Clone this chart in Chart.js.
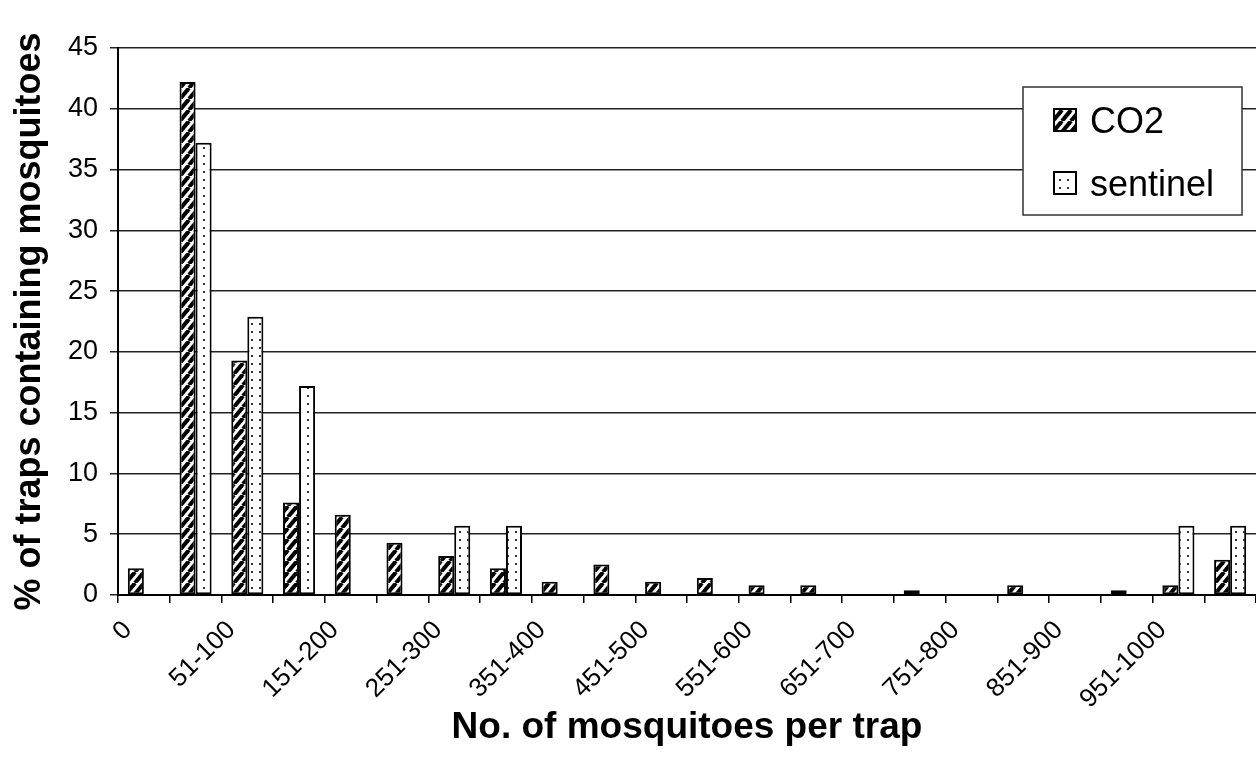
<!DOCTYPE html>
<html>
<head>
<meta charset="utf-8">
<title>Mosquitoes per trap</title>
<script src="https://cdn.jsdelivr.net/npm/chart.js@4.4.1/dist/chart.umd.min.js"></script>
<style>
    body { margin: 0; background: #fff; }
    #wrap { width: 1256px; height: 776px; position: relative; }
</style>
</head>
<body>
<div id="wrap"><canvas id="trapChart"></canvas></div>
<script>
// data
const categories = ['0', '1-50', '51-100', '101-150', '151-200', '201-250', '251-300', '301-350',
    '351-400', '401-450', '451-500', '501-550', '551-600', '601-650', '651-700', '701-750',
    '751-800', '801-850', '851-900', '901-950', '951-1000', '>1000'];
const co2Values = [2.2, 42.2, 19.3, 7.6, 6.6, 4.3, 3.2, 2.2, 1.1, 2.5, 1.1, 1.4, 0.8, 0.8, 0,
    0.4, 0, 0.8, 0, 0.4, 0.8, 2.9];
const sentinelValues = [0, 37.2, 22.9, 17.2, 0, 0, 5.7, 5.7, 0, 0, 0, 0, 0, 0, 0,
    0, 0, 0, 0, 0, 5.7, 5.7];
const yTicks = [0, 5, 10, 15, 20, 25, 30, 35, 40, 45];

const FONT = 'Arial, "Liberation Sans", sans-serif';

function hatchPattern() {
    const w = 9, h = 11;
    const c = document.createElement('canvas');
    c.width = w; c.height = h;
    const g = c.getContext('2d');
    g.fillStyle = '#fff';
    g.fillRect(0, 0, w, h);
    g.strokeStyle = '#000';
    g.lineWidth = 4;
    [-w, 0, w].forEach(dx => {
        g.beginPath();
        g.moveTo(dx, h);
        g.lineTo(dx + w, 0);
        g.stroke();
    });
    return g.createPattern(c, 'repeat');
}

function dotPattern() {
    const c = document.createElement('canvas');
    c.width = 8; c.height = 8;
    const g = c.getContext('2d');
    g.fillStyle = '#fff';
    g.fillRect(0, 0, 8, 8);
    g.fillStyle = '#333';
    g.fillRect(3, 3, 2, 2);
    return g.createPattern(c, 'repeat');
}

// legend drawn as a boxed panel inside the plot, like the original
const boxLegend = {
    id: 'boxLegend',
    afterDraw(chart) {
        const { ctx, chartArea } = chart;
        const x = chartArea.right - 233, y = chartArea.top + 39;
        ctx.save();
        ctx.fillStyle = '#fff';
        ctx.fillRect(x, y, 219, 128);
        ctx.strokeStyle = '#333';
        ctx.lineWidth = 1.5;
        ctx.strokeRect(x, y, 219, 128);
        ctx.font = '36px ' + FONT;
        ctx.textBaseline = 'alphabetic';
        chart.data.datasets.forEach((ds, i) => {
            const sy = y + 21 + i * 63;
            ctx.fillStyle = ds.backgroundColor;
            ctx.fillRect(x + 30, sy, 24, 24);
            ctx.strokeStyle = '#000';
            ctx.lineWidth = 2;
            ctx.strokeRect(x + 31, sy + 1, 22, 22);
            ctx.fillStyle = '#000';
            ctx.fillText(ds.label, x + 67, sy + 25);
        });
        ctx.restore();
    }
};

document.addEventListener('DOMContentLoaded', () => {
    const ctx = document.getElementById('trapChart').getContext('2d');
    new Chart(ctx, {
        type: 'bar',
        data: {
            labels: categories,
            datasets: [
                {
                    label: 'CO2',
                    data: co2Values,
                    backgroundColor: hatchPattern(),
                    borderColor: '#000',
                    borderWidth: 2,
                    borderSkipped: false,
                    categoryPercentage: 0.62,
                    barPercentage: 1.0
                },
                {
                    label: 'sentinel',
                    data: sentinelValues,
                    backgroundColor: dotPattern(),
                    borderColor: '#000',
                    borderWidth: 2,
                    borderSkipped: false,
                    categoryPercentage: 0.62,
                    barPercentage: 1.0
                }
            ]
        },
        options: {
            responsive: true,
            maintainAspectRatio: false,
            animation: false,
            layout: { padding: { top: 48, right: 0, bottom: 26, left: 8 } },
            plugins: {
                legend: { display: false },
                tooltip: { enabled: false }
            },
            scales: {
                x: {
                    afterFit: (scale) => {
                        scale.height = 155;
                        scale.paddingRight = 0;
                    },
                    grid: {
                        offset: true,
                        drawOnChartArea: false,
                        drawTicks: true,
                        tickLength: 8,
                        color: '#000',
                        lineWidth: 1.5
                    },
                    border: { color: '#000', width: 2 },
                    ticks: {
                        autoSkip: false,
                        maxRotation: 45,
                        minRotation: 45,
                        padding: 12,
                        labelOffset: -16,
                        color: '#000',
                        font: { family: FONT, size: 26 },
                        callback: (val, i) => (i % 2 === 0 ? categories[i] : '')
                    },
                    title: {
                        display: true,
                        text: 'No. of mosquitoes per trap',
                        color: '#000',
                        padding: { top: 0, bottom: 0 },
                        font: { family: FONT, size: 37, weight: 'bold' }
                    }
                },
                y: {
                    min: yTicks[0],
                    max: yTicks[yTicks.length - 1],
                    afterFit: (scale) => { scale.width = 110; },
                    afterBuildTicks: (scale) => { scale.ticks = yTicks.map(v => ({ value: v })); },
                    grid: {
                        color: '#222',
                        lineWidth: 1.5,
                        drawTicks: true,
                        tickLength: 8
                    },
                    border: { color: '#000', width: 2 },
                    ticks: {
                        padding: 12,
                        color: '#000',
                        font: { family: FONT, size: 27 }
                    },
                    title: {
                        display: true,
                        text: '% of traps containing mosquitoes',
                        color: '#000',
                        padding: { top: 0, bottom: 0 },
                        font: { family: FONT, size: 36, weight: 'bold' }
                    }
                }
            }
        },
        plugins: [boxLegend]
    });
});
</script>
</body>
</html>
